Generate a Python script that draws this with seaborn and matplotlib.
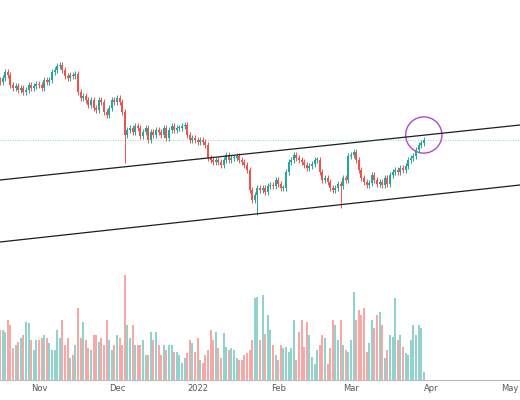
import numpy as np
import pandas as pd
import matplotlib
matplotlib.use("Agg")
import matplotlib.pyplot as plt
import seaborn as sns

sns.set_style("white")
plt.rcParams['font.family'] = ['DejaVu Sans']

# closes (relative price units), daily from 2021-10-17
close_px = [82,78,72,75,85,88,86, 90,88,92,90,85,88,86,84, 85,88,80,82,80,72,70,
 66,65,70,76,78,75,76, 74,92,98,96,100,105,100, 108,110,100,102,112,115,108,
 100,102,98,102,112,135,130, 128,132,126,128,136,132,128, 140,132,135,130,132,135,128,
 138,130,126,130,128,128,126, 125,135,140,138,140,142,140, 142,145,158,160,162,160,162,
 165,160,155,160,158,158,156, 160,162,165,170,190,200,195, 188,190,188,192,186,185,186,
 180,184,188,188,172,162,160, 155,158,160,162,165,168,166, 164,160,160,172,180,178,182,
 188,190,188,184,186,178,180, 156,155,152,160,170,178,182, 185,183,175,180,184,182,185,
 178,184,175,172,170,172,168, 170,166,160,158,156,150,145, 143,140]
closes = [250 - y for y in close_px]
volume = [50,50,48,60,55,32,35, 38,42,45,58,57,40,30,40, 40,42,45,42,37,30,30,
 50,42,60,35,42,22,25, 35,72,42,58,40,32,30, 45,45,38,42,35,60,40,
 30,35,45,42,35,105,55, 42,55,35,35,35,40,25, 25,48,40,48,35,25,35,
 30,35,35,28,28,25,17, 22,27,40,37,28,42,20, 17,25,30,50,40,48,32,
 22,47,33,30,32,30,22, 20,20,25,27,30,40,82, 83,40,85,46,65,50,35,
 25,20,35,32,33,28,32, 60,20,48,60,33,58,45, 23,16,30,35,45,42,16,
 32,60,55,40,60,35,30, 28,40,88,60,70,65,72, 28,37,60,52,65,68,55,
 22,30,45,43,82,40,45, 33,27,25,40,55,45,55, 52,8]
long_wicks = {48: 250-163, 99: 250-215, 131: 250-208}  # day index -> low
tick_days = [15, 45, 76, 107, 135, 166, 196]
tick_labels = ["Nov", "Dec", "2022", "Feb", "Mar", "Apr", "May"]

UP, DN = "#26a69a", "#ef5350"
n = len(closes)
days = np.arange(n)
opens = [closes[0] + 2] + closes[:-1]

fig = plt.figure(figsize=(5.2, 4.0), dpi=100)
ax = fig.add_axes([0, 1 - 255/400, 1, 255/400])
axv = fig.add_axes([0, 20/400, 1, 115/400])

for i in range(n):
    o, c = opens[i], closes[i]
    col = UP if c >= o else DN
    hi = max(o, c) + 3
    lo = long_wicks.get(i, min(o, c) - 3)
    ax.vlines(i, lo, hi, color=col, lw=0.7)
    ax.bar(i, max(abs(c - o), 0.8), bottom=min(o, c), width=0.75, color=col, lw=0)

ax.plot([0, 200], [70, 125], color="#1e1e1e", lw=0.9)
ax.plot([0, 200], [8, 65], color="#1e1e1e", lw=0.9)
ax.axhline(110, color="#26a69a", lw=0.6, ls=(0, (1, 2)), alpha=0.6)
sns.scatterplot(x=[163], y=[115], ax=ax, s=680, facecolor="none",
                edgecolor="#b048c8", linewidth=1.0, legend=False)
ax.set_xlim(0, 200)
ax.set_ylim(-5, 250)
ax.axis("off")

vcols = [(UP if closes[i] >= opens[i] else DN) for i in range(n)]
axv.bar(days, volume, width=0.7, color=vcols, alpha=0.5, lw=0)
axv.set_xlim(0, 200)
axv.set_ylim(0, 115)
axv.set_yticks([])
axv.set_xticks(tick_days)
axv.set_xticklabels(tick_labels, fontsize=6, color="#555555")
axv.tick_params(axis="x", length=0, pad=3)
for s in ["top", "left", "right"]:
    axv.spines[s].set_visible(False)
axv.spines["bottom"].set_color("#bbbbbb")
axv.set_facecolor("none")

fig.savefig("out.png", dpi=100)
